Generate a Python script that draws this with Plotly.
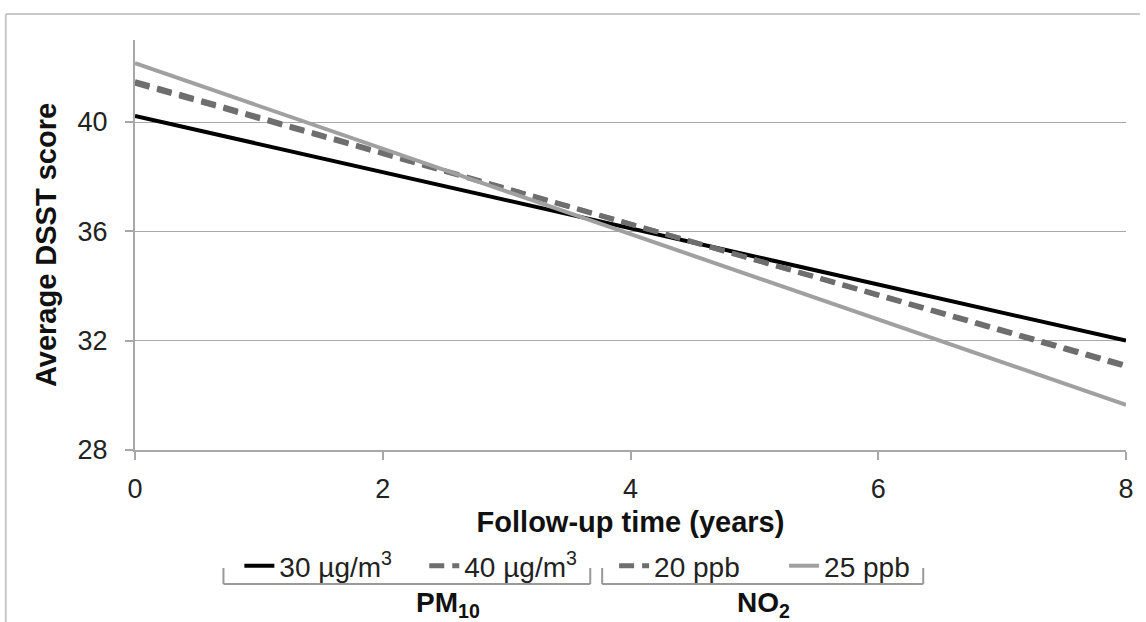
import plotly.graph_objects as go

years = [0, 8]
pm10_30 = [40.22, 32.0]
pm10_40 = [41.48, 31.05]
no2_20 = [41.42, 31.1]
no2_25 = [42.15, 29.65]

series_names = ["30 µg/m<sup>3</sup>", "40 µg/m<sup>3</sup>", "20 ppb", "25 ppb"]
y_ticks = [28, 32, 36, 40]
x_ticks = [0, 2, 4, 6, 8]

L, R, T, B = 135, 14, 40, 172
W, H = 1146, 622
PW, PH = W - L - R, H - T - B

def px(x):
    return (x - L) / PW

def py(y):
    return (H - B - y) / PH

FONT = "Liberation Sans, Arial, sans-serif"

styles = [
    dict(color="#000000", width=4, dash="solid"),
    dict(color="#6e6e6e", width=5, dash="15px,8px"),
    dict(color="#6e6e6e", width=5, dash="15px,8px"),
    dict(color="#a0a0a0", width=4, dash="solid"),
]
data = [pm10_30, pm10_40, no2_20, no2_25]
legend_ids = ["legend", "legend2", "legend3", "legend4"]
legend_x = [240, 426, 617, 788]

fig = go.Figure()
for name, vals, st, lid in zip(series_names, data, styles, legend_ids):
    fig.add_trace(go.Scatter(x=years, y=vals, mode="lines", name=name,
                             line=st, legend=lid, showlegend=True))

legend_common = dict(orientation="h", yanchor="middle", xanchor="left",
                     bgcolor="rgba(0,0,0,0)", borderwidth=0,
                     font=dict(family=FONT, size=28, color="#222"))
layout_legends = {}
for lid, lx in zip(legend_ids, legend_x):
    layout_legends[lid] = dict(legend_common, x=px(lx), y=py(566))

shapes = []
# outer frame
shapes.append(dict(type="line", xref="paper", yref="paper", x0=px(5), x1=px(1146),
                   y0=py(14), y1=py(14), line=dict(color="#c8c8c8", width=2)))
shapes.append(dict(type="line", xref="paper", yref="paper", x0=px(5), x1=px(5),
                   y0=py(14), y1=py(622), line=dict(color="#c8c8c8", width=2)))
# brackets
for x0, x1 in [(224, 593), (605, 928)]:
    for seg in [(x0, 568, x0, 584), (x0, 584, x1, 584), (x1, 568, x1, 584)]:
        shapes.append(dict(type="line", xref="paper", yref="paper",
                           x0=px(seg[0]), y0=py(seg[1]), x1=px(seg[2]), y1=py(seg[3]),
                           line=dict(color="#999999", width=2)))

annotations = [
    dict(text="<b>PM<sub>10</sub></b>", x=px(416), y=py(604), xref="paper", yref="paper",
         showarrow=False, yanchor="middle", font=dict(family=FONT, size=28, color="#111")),
    dict(text="<b>NO<sub>2</sub></b>", x=px(767), y=py(604), xref="paper", yref="paper",
         showarrow=False, yanchor="middle", font=dict(family=FONT, size=28, color="#111")),
]

fig.update_layout(
    width=W, height=H,
    margin=dict(l=L, r=R, t=T, b=B),
    paper_bgcolor="white", plot_bgcolor="white",
    font=dict(family=FONT, size=28, color="#222"),
    showlegend=True,
    shapes=shapes, annotations=annotations,
    **layout_legends,
)
fig.update_xaxes(range=[0, 8], tickvals=x_ticks, showgrid=False, zeroline=False,
                 showline=True, linecolor="#a8a8a8", linewidth=2,
                 ticks="outside", ticklen=8, tickcolor="#a8a8a8", tickwidth=2,
                 ticklabelstandoff=6,
                 tickfont=dict(size=27, family=FONT, color="#222"),
                 title=dict(text="<b>Follow-up time (years)</b>", standoff=8,
                            font=dict(size=29, family=FONT, color="#111")))
fig.update_yaxes(range=[28, 43], tickvals=y_ticks, showgrid=True, gridcolor="#a8a8a8",
                 gridwidth=1, zeroline=False,
                 showline=True, linecolor="#a8a8a8", linewidth=2,
                 ticks="outside", ticklen=8, tickcolor="#a8a8a8", tickwidth=2,
                 ticklabelstandoff=12,
                 tickfont=dict(size=27, family=FONT, color="#222"),
                 title=dict(text="<b>Average DSST score</b>", standoff=12,
                            font=dict(size=29, family=FONT, color="#111")))

fig.write_html("out.html", config={"displayModeBar": False},
               post_script="document.body.style.margin='0';")
